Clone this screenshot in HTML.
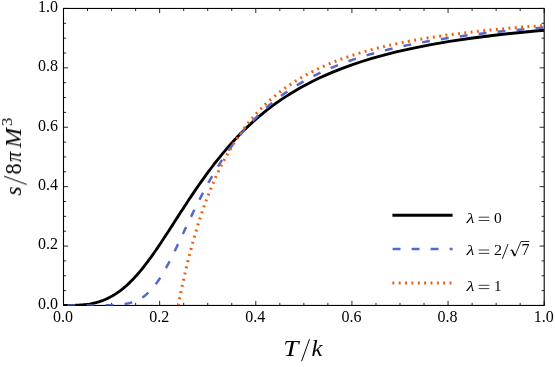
<!DOCTYPE html>
<html><head><meta charset="utf-8"><title>plot</title>
<style>
html,body{margin:0;padding:0;background:#fff;}
svg{display:block;}
text{font-family:"Liberation Serif",serif;fill:#000;}
.tk text{font-size:16px;}
</style></head><body>
<svg width="555" height="367" viewBox="0 0 555 367">
<rect x="0" y="0" width="555" height="367" fill="#ffffff"/>
<defs><filter id="ga" filterUnits="userSpaceOnUse" x="0" y="0" width="555" height="367"><feOffset dx="0" dy="0"/></filter><clipPath id="cp"><rect x="63.5" y="8.45" width="480.70000000000005" height="297.0"/></clipPath></defs>
<g stroke="#111" stroke-width="0.9" fill="none">
<line x1="63.50" y1="305.45" x2="63.50" y2="300.84999999999997"/>
<line x1="63.50" y1="8.45" x2="63.50" y2="13.049999999999999"/>
<line x1="63.5" y1="305.45" x2="68.1" y2="305.45"/>
<line x1="544.2" y1="305.45" x2="539.6" y2="305.45"/>
<line x1="87.53" y1="305.45" x2="87.53" y2="302.84999999999997"/>
<line x1="87.53" y1="8.45" x2="87.53" y2="11.049999999999999"/>
<line x1="63.5" y1="290.60" x2="66.1" y2="290.60"/>
<line x1="544.2" y1="290.60" x2="541.6" y2="290.60"/>
<line x1="111.57" y1="305.45" x2="111.57" y2="302.84999999999997"/>
<line x1="111.57" y1="8.45" x2="111.57" y2="11.049999999999999"/>
<line x1="63.5" y1="275.75" x2="66.1" y2="275.75"/>
<line x1="544.2" y1="275.75" x2="541.6" y2="275.75"/>
<line x1="135.61" y1="305.45" x2="135.61" y2="302.84999999999997"/>
<line x1="135.61" y1="8.45" x2="135.61" y2="11.049999999999999"/>
<line x1="63.5" y1="260.90" x2="66.1" y2="260.90"/>
<line x1="544.2" y1="260.90" x2="541.6" y2="260.90"/>
<line x1="159.64" y1="305.45" x2="159.64" y2="300.84999999999997"/>
<line x1="159.64" y1="8.45" x2="159.64" y2="13.049999999999999"/>
<line x1="63.5" y1="246.05" x2="68.1" y2="246.05"/>
<line x1="544.2" y1="246.05" x2="539.6" y2="246.05"/>
<line x1="183.68" y1="305.45" x2="183.68" y2="302.84999999999997"/>
<line x1="183.68" y1="8.45" x2="183.68" y2="11.049999999999999"/>
<line x1="63.5" y1="231.20" x2="66.1" y2="231.20"/>
<line x1="544.2" y1="231.20" x2="541.6" y2="231.20"/>
<line x1="207.71" y1="305.45" x2="207.71" y2="302.84999999999997"/>
<line x1="207.71" y1="8.45" x2="207.71" y2="11.049999999999999"/>
<line x1="63.5" y1="216.35" x2="66.1" y2="216.35"/>
<line x1="544.2" y1="216.35" x2="541.6" y2="216.35"/>
<line x1="231.75" y1="305.45" x2="231.75" y2="302.84999999999997"/>
<line x1="231.75" y1="8.45" x2="231.75" y2="11.049999999999999"/>
<line x1="63.5" y1="201.50" x2="66.1" y2="201.50"/>
<line x1="544.2" y1="201.50" x2="541.6" y2="201.50"/>
<line x1="255.78" y1="305.45" x2="255.78" y2="300.84999999999997"/>
<line x1="255.78" y1="8.45" x2="255.78" y2="13.049999999999999"/>
<line x1="63.5" y1="186.65" x2="68.1" y2="186.65"/>
<line x1="544.2" y1="186.65" x2="539.6" y2="186.65"/>
<line x1="279.82" y1="305.45" x2="279.82" y2="302.84999999999997"/>
<line x1="279.82" y1="8.45" x2="279.82" y2="11.049999999999999"/>
<line x1="63.5" y1="171.80" x2="66.1" y2="171.80"/>
<line x1="544.2" y1="171.80" x2="541.6" y2="171.80"/>
<line x1="303.85" y1="305.45" x2="303.85" y2="302.84999999999997"/>
<line x1="303.85" y1="8.45" x2="303.85" y2="11.049999999999999"/>
<line x1="63.5" y1="156.95" x2="66.1" y2="156.95"/>
<line x1="544.2" y1="156.95" x2="541.6" y2="156.95"/>
<line x1="327.89" y1="305.45" x2="327.89" y2="302.84999999999997"/>
<line x1="327.89" y1="8.45" x2="327.89" y2="11.049999999999999"/>
<line x1="63.5" y1="142.10" x2="66.1" y2="142.10"/>
<line x1="544.2" y1="142.10" x2="541.6" y2="142.10"/>
<line x1="351.92" y1="305.45" x2="351.92" y2="300.84999999999997"/>
<line x1="351.92" y1="8.45" x2="351.92" y2="13.049999999999999"/>
<line x1="63.5" y1="127.25" x2="68.1" y2="127.25"/>
<line x1="544.2" y1="127.25" x2="539.6" y2="127.25"/>
<line x1="375.96" y1="305.45" x2="375.96" y2="302.84999999999997"/>
<line x1="375.96" y1="8.45" x2="375.96" y2="11.049999999999999"/>
<line x1="63.5" y1="112.40" x2="66.1" y2="112.40"/>
<line x1="544.2" y1="112.40" x2="541.6" y2="112.40"/>
<line x1="399.99" y1="305.45" x2="399.99" y2="302.84999999999997"/>
<line x1="399.99" y1="8.45" x2="399.99" y2="11.049999999999999"/>
<line x1="63.5" y1="97.55" x2="66.1" y2="97.55"/>
<line x1="544.2" y1="97.55" x2="541.6" y2="97.55"/>
<line x1="424.03" y1="305.45" x2="424.03" y2="302.84999999999997"/>
<line x1="424.03" y1="8.45" x2="424.03" y2="11.049999999999999"/>
<line x1="63.5" y1="82.70" x2="66.1" y2="82.70"/>
<line x1="544.2" y1="82.70" x2="541.6" y2="82.70"/>
<line x1="448.06" y1="305.45" x2="448.06" y2="300.84999999999997"/>
<line x1="448.06" y1="8.45" x2="448.06" y2="13.049999999999999"/>
<line x1="63.5" y1="67.85" x2="68.1" y2="67.85"/>
<line x1="544.2" y1="67.85" x2="539.6" y2="67.85"/>
<line x1="472.10" y1="305.45" x2="472.10" y2="302.84999999999997"/>
<line x1="472.10" y1="8.45" x2="472.10" y2="11.049999999999999"/>
<line x1="63.5" y1="53.00" x2="66.1" y2="53.00"/>
<line x1="544.2" y1="53.00" x2="541.6" y2="53.00"/>
<line x1="496.13" y1="305.45" x2="496.13" y2="302.84999999999997"/>
<line x1="496.13" y1="8.45" x2="496.13" y2="11.049999999999999"/>
<line x1="63.5" y1="38.15" x2="66.1" y2="38.15"/>
<line x1="544.2" y1="38.15" x2="541.6" y2="38.15"/>
<line x1="520.17" y1="305.45" x2="520.17" y2="302.84999999999997"/>
<line x1="520.17" y1="8.45" x2="520.17" y2="11.049999999999999"/>
<line x1="63.5" y1="23.30" x2="66.1" y2="23.30"/>
<line x1="544.2" y1="23.30" x2="541.6" y2="23.30"/>
<line x1="544.20" y1="305.45" x2="544.20" y2="300.84999999999997"/>
<line x1="544.20" y1="8.45" x2="544.20" y2="13.049999999999999"/>
<line x1="63.5" y1="8.45" x2="68.1" y2="8.45"/>
<line x1="544.2" y1="8.45" x2="539.6" y2="8.45"/>
</g>
<rect x="63.5" y="8.45" width="480.70000000000005" height="297.0" fill="none" stroke="#000" stroke-width="1.1"/>
<g clip-path="url(#cp)" fill="none" stroke-linejoin="round">
<path d="M63.50 305.45 L63.52 305.45 L68.64 305.44 L71.66 305.40 L74.20 305.35 L76.46 305.27 L78.54 305.17 L80.48 305.04 L82.32 304.90 L84.08 304.73 L85.76 304.54 L87.38 304.32 L88.95 304.09 L90.47 303.83 L91.95 303.54 L93.40 303.24 L94.81 302.91 L96.19 302.56 L97.54 302.19 L98.87 301.80 L100.18 301.38 L101.47 300.94 L102.73 300.48 L103.98 299.99 L105.21 299.48 L106.42 298.95 L107.62 298.40 L108.81 297.83 L109.98 297.23 L111.14 296.61 L112.29 295.97 L113.43 295.30 L114.56 294.61 L115.68 293.90 L116.80 293.17 L117.90 292.41 L119.00 291.63 L120.09 290.83 L121.17 290.01 L122.25 289.16 L123.32 288.30 L124.38 287.41 L125.45 286.49 L126.50 285.56 L127.56 284.60 L128.61 283.62 L129.66 282.61 L130.70 281.59 L131.75 280.54 L132.79 279.47 L133.83 278.37 L134.86 277.25 L135.90 276.12 L136.94 274.95 L137.97 273.77 L139.01 272.56 L140.05 271.33 L141.09 270.08 L142.13 268.81 L143.17 267.51 L144.21 266.19 L145.25 264.85 L146.30 263.48 L147.35 262.10 L148.40 260.69 L149.46 259.26 L150.52 257.80 L151.59 256.32 L152.66 254.82 L153.73 253.30 L154.81 251.76 L155.90 250.19 L156.99 248.60 L158.09 246.98 L159.20 245.35 L160.31 243.69 L161.43 242.01 L162.56 240.31 L163.70 238.58 L164.85 236.83 L166.00 235.06 L167.17 233.27 L168.35 231.45 L169.54 229.62 L170.74 227.76 L171.95 225.87 L173.18 223.97 L174.42 222.04 L175.68 220.09 L176.95 218.11 L178.23 216.12 L179.53 214.10 L180.85 212.06 L182.19 209.99 L183.54 207.91 L184.92 205.80 L186.31 203.67 L187.73 201.51 L189.17 199.33 L190.63 197.14 L192.12 194.91 L193.63 192.67 L195.17 190.40 L196.74 188.11 L198.33 185.80 L199.96 183.47 L201.62 181.11 L203.31 178.73 L205.04 176.33 L206.81 173.90 L208.62 171.46 L210.47 168.99 L212.36 166.49 L214.29 163.98 L216.28 161.44 L218.32 158.88 L220.41 156.30 L222.55 153.69 L224.76 151.06 L227.03 148.41 L229.37 145.74 L231.78 143.05 L234.27 140.33 L236.83 137.59 L239.49 134.82 L242.23 132.04 L245.07 129.23 L248.02 126.40 L251.08 123.55 L254.26 120.67 L257.57 117.77 L261.03 114.85 L264.63 111.91 L268.39 108.94 L272.34 105.95 L276.48 102.94 L280.82 99.91 L285.40 96.85 L290.24 93.77 L295.35 90.67 L300.78 87.55 L306.55 84.40 L312.70 81.23 L319.28 78.04 L326.36 74.83 L333.98 71.59 L342.24 68.33 L351.22 65.05 L361.04 61.74 L371.86 58.42 L383.85 55.07 L397.24 51.69 L412.35 48.30 L429.57 44.88 L449.46 41.44 L472.81 37.98 L500.77 34.50 L535.09 30.99 L544.20 30.25" stroke="#000" stroke-width="2.85"/>
<path d="M63.50 305.45 L66.03 305.45 L94.14 305.44 L100.85 305.40 L105.44 305.35 L109.03 305.27 L112.04 305.17 L114.64 305.04 L116.94 304.90 L119.03 304.73 L120.94 304.54 L122.71 304.32 L124.35 304.09 L125.90 303.83 L127.36 303.54 L128.74 303.24 L130.06 302.91 L131.33 302.56 L132.54 302.19 L133.70 301.80 L134.83 301.38 L135.91 300.94 L136.97 300.48 L137.99 299.99 L138.98 299.48 L139.95 298.95 L140.90 298.40 L141.82 297.83 L142.73 297.23 L143.61 296.61 L144.48 295.97 L145.34 295.30 L146.17 294.61 L147.00 293.90 L147.82 293.17 L148.62 292.41 L149.41 291.63 L150.20 290.83 L150.97 290.01 L151.74 289.16 L152.50 288.30 L153.25 287.41 L154.00 286.49 L154.74 285.56 L155.48 284.60 L156.21 283.62 L156.94 282.61 L157.66 281.59 L158.38 280.54 L159.10 279.47 L159.82 278.37 L160.54 277.25 L161.25 276.12 L161.97 274.95 L162.68 273.77 L163.40 272.56 L164.11 271.33 L164.83 270.08 L165.54 268.81 L166.26 267.51 L166.98 266.19 L167.71 264.85 L168.43 263.48 L169.16 262.10 L169.89 260.69 L170.63 259.26 L171.37 257.80 L172.11 256.32 L172.86 254.82 L173.61 253.30 L174.37 251.76 L175.14 250.19 L175.91 248.60 L176.68 246.98 L177.47 245.35 L178.26 243.69 L179.06 242.01 L179.87 240.31 L180.69 238.58 L181.51 236.83 L182.35 235.06 L183.20 233.27 L184.05 231.45 L184.92 229.62 L185.80 227.76 L186.69 225.87 L187.59 223.97 L188.51 222.04 L189.44 220.09 L190.39 218.11 L191.35 216.12 L192.32 214.10 L193.31 212.06 L194.32 209.99 L195.35 207.91 L196.39 205.80 L197.46 203.67 L198.54 201.51 L199.65 199.33 L200.77 197.14 L201.93 194.91 L203.10 192.67 L204.30 190.40 L205.53 188.11 L206.78 185.80 L208.06 183.47 L209.37 181.11 L210.72 178.73 L212.10 176.33 L213.51 173.90 L214.96 171.46 L216.44 168.99 L217.97 166.49 L219.54 163.98 L221.16 161.44 L222.82 158.88 L224.53 156.30 L226.29 153.69 L228.11 151.06 L229.99 148.41 L231.93 145.74 L233.93 143.05 L236.01 140.33 L238.16 137.59 L240.39 134.82 L242.70 132.04 L245.10 129.23 L247.60 126.40 L250.20 123.55 L252.92 120.67 L255.75 117.77 L258.71 114.85 L261.81 111.91 L265.06 108.94 L268.47 105.95 L272.06 102.94 L275.85 99.91 L279.84 96.85 L284.07 93.77 L288.56 90.67 L293.33 87.55 L298.41 84.40 L303.85 81.23 L309.69 78.04 L315.97 74.83 L322.76 71.59 L330.13 68.33 L338.16 65.05 L346.97 61.74 L356.70 58.42 L367.49 55.07 L379.59 51.69 L393.25 48.30 L408.87 44.88 L426.94 41.44 L448.20 37.98 L473.71 34.50 L505.09 30.99 L544.20 27.53" stroke="#5868c8" stroke-width="2.5" stroke-dasharray="7.9 11.14" stroke-dashoffset="15.1"/>
<path d="M178.26 305.45 L178.26 305.44 L178.27 305.40 L178.28 305.35 L178.29 305.27 L178.31 305.17 L178.34 305.04 L178.37 304.90 L178.40 304.73 L178.44 304.54 L178.48 304.32 L178.52 304.09 L178.57 303.83 L178.63 303.54 L178.69 303.24 L178.75 302.91 L178.82 302.56 L178.89 302.19 L178.97 301.80 L179.05 301.38 L179.14 300.94 L179.23 300.48 L179.33 299.99 L179.43 299.48 L179.53 298.95 L179.65 298.40 L179.76 297.83 L179.88 297.23 L180.01 296.61 L180.14 295.97 L180.27 295.30 L180.41 294.61 L180.56 293.90 L180.71 293.17 L180.86 292.41 L181.02 291.63 L181.19 290.83 L181.36 290.01 L181.54 289.16 L181.72 288.30 L181.91 287.41 L182.11 286.49 L182.31 285.56 L182.51 284.60 L182.72 283.62 L182.94 282.61 L183.17 281.59 L183.40 280.54 L183.63 279.47 L183.88 278.37 L184.13 277.25 L184.38 276.12 L184.65 274.95 L184.92 273.77 L185.19 272.56 L185.48 271.33 L185.77 270.08 L186.07 268.81 L186.37 267.51 L186.69 266.19 L187.01 264.85 L187.34 263.48 L187.68 262.10 L188.03 260.69 L188.38 259.26 L188.74 257.80 L189.12 256.32 L189.50 254.82 L189.89 253.30 L190.29 251.76 L190.70 250.19 L191.12 248.60 L191.55 246.98 L191.99 245.35 L192.45 243.69 L192.91 242.01 L193.38 240.31 L193.87 238.58 L194.37 236.83 L194.88 235.06 L195.40 233.27 L195.94 231.45 L196.49 229.62 L197.05 227.76 L197.63 225.87 L198.22 223.97 L198.82 222.04 L199.45 220.09 L200.08 218.11 L200.74 216.12 L201.41 214.10 L202.10 212.06 L202.81 209.99 L203.54 207.91 L204.28 205.80 L205.05 203.67 L205.84 201.51 L206.65 199.33 L207.48 197.14 L208.33 194.91 L209.21 192.67 L210.12 190.40 L211.05 188.11 L212.01 185.80 L212.99 183.47 L214.01 181.11 L215.06 178.73 L216.14 176.33 L217.25 173.90 L218.40 171.46 L219.59 168.99 L220.82 166.49 L222.08 163.98 L223.39 161.44 L224.75 158.88 L226.15 156.30 L227.60 153.69 L229.11 151.06 L230.67 148.41 L232.29 145.74 L233.97 143.05 L235.72 140.33 L237.54 137.59 L239.43 134.82 L241.40 132.04 L243.46 129.23 L245.60 126.40 L247.85 123.55 L250.19 120.67 L252.65 117.77 L255.23 114.85 L257.94 111.91 L260.79 108.94 L263.79 105.95 L266.95 102.94 L270.30 99.91 L273.85 96.85 L277.61 93.77 L281.61 90.67 L285.87 87.55 L290.43 84.40 L295.32 81.23 L300.58 78.04 L306.25 74.83 L312.39 71.59 L319.08 68.33 L326.38 65.05 L334.41 61.74 L343.29 58.42 L353.16 55.07 L364.25 51.69 L376.79 48.30 L391.16 44.88 L407.82 41.44 L427.44 37.98 L451.03 34.50 L480.09 30.99 L517.13 27.46 L544.20 25.51" stroke="#ec5e0e" stroke-width="3.0" stroke-dasharray="1.9 4.443"/>
</g>
<g filter="url(#ga)">
<g class="tk">
<text x="63.00" y="322.4" text-anchor="middle">0.0</text>
<text x="159.14" y="322.4" text-anchor="middle">0.2</text>
<text x="255.28" y="322.4" text-anchor="middle">0.4</text>
<text x="351.42" y="322.4" text-anchor="middle">0.6</text>
<text x="447.56" y="322.4" text-anchor="middle">0.8</text>
<text x="543.70" y="322.4" text-anchor="middle">1.0</text>
<text x="58.1" y="308.85" text-anchor="end">0.0</text>
<text x="58.1" y="249.45" text-anchor="end">0.2</text>
<text x="58.1" y="190.05" text-anchor="end">0.4</text>
<text x="58.1" y="130.65" text-anchor="end">0.6</text>
<text x="58.1" y="71.25" text-anchor="end">0.8</text>
<text x="58.1" y="11.85" text-anchor="end">1.0</text>
</g>
<g><text transform="translate(283.26,355.97) scale(1.179,1)" font-size="23.18px" font-style="italic">T</text><line x1="301.6" y1="361.3" x2="309.5" y2="339.2" stroke="#000" stroke-width="1.0"/><text transform="translate(311.61,356.40) scale(1.045,1)" font-size="23.48px" font-style="italic">k</text></g>
<g transform="translate(0,195.3) rotate(-90)"><text transform="translate(-0.23,21.48) scale(1.051,1)" font-size="22.29px" font-style="italic">s</text><text transform="translate(20.83,21.43) scale(0.947,1)" font-size="23.53px">8</text><text transform="translate(33.20,21.17) scale(0.903,1)" font-size="22.77px" font-style="italic">π</text><text transform="translate(47.38,21.16) scale(0.992,1)" font-size="24.09px" font-style="italic">M</text><text transform="translate(69.13,11.59) scale(1.084,1)" font-size="15.44px">3</text><line x1="10.8" y1="26.7" x2="19.1" y2="4.0" stroke="#000" stroke-width="1.0"/></g>
<g fill="none">
<line x1="392.4" y1="215.25" x2="452.6" y2="215.25" stroke="#000" stroke-width="2.9"/>
<line x1="392.6" y1="249.1" x2="452.6" y2="249.1" stroke="#5868c8" stroke-width="2.5" stroke-dasharray="7.9 11.1"/>
<line x1="392.35" y1="283.0" x2="452.6" y2="283.0" stroke="#ec5e0e" stroke-width="3.0" stroke-dasharray="1.9 4.46"/>
</g>
<g><text transform="translate(466.45,222.95) scale(1.199,1)" font-size="15.35px" font-style="italic">λ</text><line x1="478.7" y1="217.2" x2="489.3" y2="217.2" stroke="#000" stroke-width="0.75"/><line x1="478.7" y1="220.5" x2="489.3" y2="220.5" stroke="#000" stroke-width="0.75"/><text transform="translate(494.04,223.19) scale(0.991,1)" font-size="15.59px">0</text><text transform="translate(466.45,255.25) scale(1.199,1)" font-size="15.35px" font-style="italic">λ</text><line x1="478.7" y1="250.0" x2="489.3" y2="250.0" stroke="#000" stroke-width="0.75"/><line x1="478.7" y1="253.4" x2="489.3" y2="253.4" stroke="#000" stroke-width="0.75"/><text transform="translate(494.06,255.04) scale(1.037,1)" font-size="15.52px">2</text><line x1="502.3" y1="258.9" x2="508.1" y2="244.0" stroke="#000" stroke-width="0.9"/><path d="M510.4 250.6 L511.9 249.7 L514.8 256.2 L521.0 241.5 L529.3 241.5" fill="none" stroke="#000" stroke-width="0.85" stroke-linejoin="miter"/><line x1="512.0" y1="250.0" x2="514.7" y2="255.9" stroke="#000" stroke-width="1.6"/><text transform="translate(521.44,255.14) scale(1.012,1)" font-size="15.76px">7</text><text transform="translate(466.45,290.65) scale(1.199,1)" font-size="15.35px" font-style="italic">λ</text><line x1="478.7" y1="285.3" x2="489.3" y2="285.3" stroke="#000" stroke-width="0.75"/><line x1="478.7" y1="288.6" x2="489.3" y2="288.6" stroke="#000" stroke-width="0.75"/><text transform="translate(494.10,290.80) scale(0.971,1)" font-size="15.45px">1</text></g>
</g>
</svg>
</body></html>
